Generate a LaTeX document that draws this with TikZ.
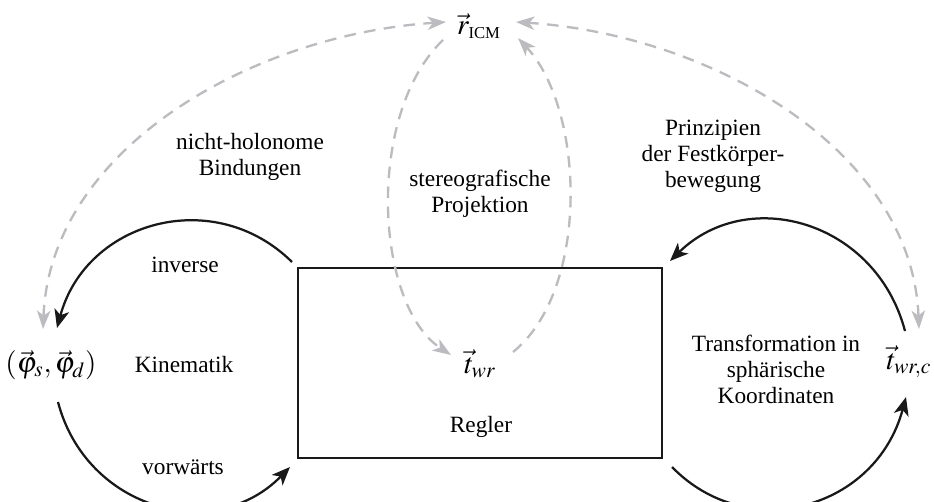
\documentclass[tikz,border=0pt]{standalone}
\usepackage{mathptmx}
\usepackage{fontspec}
\setmainfont{Liberation Serif}
\usetikzlibrary{arrows.meta}
\definecolor{dashgray}{RGB}{188,188,192}
\definecolor{arcblack}{RGB}{25,25,25}
\begin{document}
\begin{tikzpicture}[x=0.6pt,y=-0.6pt,
  font=\fontsize{14}{15.6}\selectfont,
  lbl/.style={align=center, inner sep=0pt},
  mlbl/.style={inner sep=0pt, font=\fontsize{17.5}{20}\selectfont},
  regbox/.style={draw=arcblack, line width=0.7pt, minimum width=218.4pt, minimum height=114pt, inner sep=0pt},
  blackarc/.style={draw=arcblack, line width=1.35pt, -{Stealth[length=11pt,width=9pt,inset=3pt]}},
  grayarc/.style={draw=dashgray, line width=1.4pt, dash pattern=on 7pt off 5pt},
  gtip/.style={-{Stealth[length=11pt,width=8pt,inset=3pt]}},
  gboth/.style={{Stealth[length=11pt,width=8pt,inset=3pt]}-{Stealth[length=11pt,width=8pt,inset=3pt]}}]
\useasboundingbox (0,0) rectangle (934,501);

% nodes
\node[regbox] (box) at (480,363) {};
\node[mlbl] (rICM) at (479,26) {$\vec{r}_{\hbox{\fontsize{10}{11}\selectfont ICM}}$};
\node[mlbl] (phi) at (51,365) {$(\vec{\varphi}_s,\vec{\varphi}_d)$};
\node[lbl] (kin) at (184,365) {Kinematik};
\node[lbl] (inv) at (185,265) {inverse};
\node[lbl] (vor) at (183,467) {vorwärts};
\node[mlbl] (twr) at (480,364) {$\vec{t}_{wr}$};
\node[lbl] (regler) at (481,427) {Regler};
\node[lbl] (trans) at (776,369) {Transformation in\\sphärische\\Koordinaten};
\node[mlbl] (twrc) at (909,362) {$\vec{t}_{wr,c}$};
\node[lbl] (nh) at (250,157) {nicht-holonome\\Bindungen};
\node[lbl] (stereo) at (480,194) {stereografische\\Projektion};
\node[lbl] (prinz) at (713,156) {Prinzipien\\der Festkörper-\\bewegung};

% connector end points
\coordinate (g1a) at (43,329);
\coordinate (g1b) at (446,22);
\coordinate (g2a) at (919,329);
\coordinate (g2b) at (516,22);
\coordinate (g3a) at (443,40);
\coordinate (g3b) at (451,355);
\coordinate (g4a) at (513,352);
\coordinate (g4b) at (518,38);

\coordinate (a1s) at (292,262);
\coordinate (a1e) at (57,328);
\coordinate (a2s) at (58,402);
\coordinate (a2e) at (290,467);
\coordinate (a3s) at (905,331);
\coordinate (a3e) at (670,261);
\coordinate (a4s) at (672,467);
\coordinate (a4e) at (906,397);

% gray dashed connectors
\draw[grayarc,gboth] (g1a) .. controls (50,150) and (250,35) .. (g1b);
\draw[grayarc,gboth] (g2a) .. controls (912,150) and (712,35) .. (g2b);
\draw[grayarc,gtip] (g3a) .. controls (365,115) and (375,305) .. (g3b);
\draw[grayarc,gtip] (g4a) .. controls (590,290) and (585,110) .. (g4b);

% black arcs
\draw[blackarc] (a1s) .. controls (214,185) and (86,221) .. (a1e);
\draw[blackarc] (a2s) .. controls (86,509) and (214,545) .. (a2e);
\draw[blackarc] (a3s) .. controls (876,221) and (748,185) .. (a3e);
\draw[blackarc] (a4s) .. controls (748,545) and (876,509) .. (a4e);
\end{tikzpicture}
\end{document}
